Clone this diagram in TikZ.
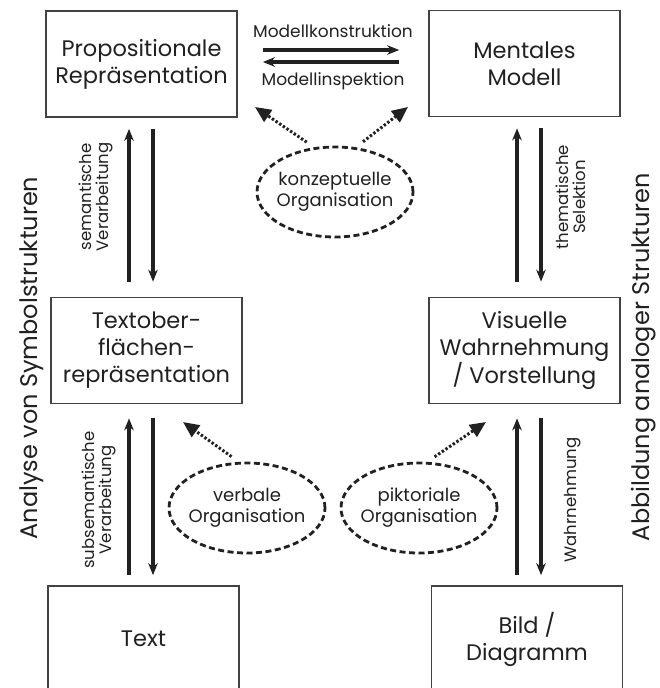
\documentclass[tikz,border=0pt]{standalone}
\usepackage{fontspec}
\setmainfont{Poppins}
\usetikzlibrary{arrows.meta,shapes.geometric,calc}
\definecolor{ink}{gray}{0.13}
\tikzset{
  box/.style={draw=ink!85, line width=1.7pt, minimum width=191pt, minimum height=106pt,
    align=center, inner sep=0pt, text=ink, font=\fontsize{22.5}{27}\selectfont},
  orgell/.style={ellipse, draw=ink, line width=2.8pt, dash pattern=on 6pt off 3.5pt,
    minimum width=156pt, minimum height=90pt, inner xsep=-8pt, inner ysep=0pt, align=center, text=ink,
    font=\fontsize{18}{21}\selectfont},
  arr/.style={draw=ink, line width=3.1pt, -{Stealth[length=12pt,width=9.5pt]}},
  dotarr/.style={draw=ink, line width=3pt, dash pattern=on 2.4pt off 2pt,
    -{Triangle[length=16pt,width=14pt]}},
  lbl/.style={text=ink, font=\fontsize{17}{19}\selectfont, inner sep=0pt},
  rlbl/.style={text=ink, font=\fontsize{16.5}{16.5}\selectfont, inner sep=0pt, rotate=90, align=center},
  side/.style={text=ink, font=\fontsize{24}{27}\selectfont, rotate=90, inner sep=0pt}
}
\begin{document}
\begin{tikzpicture}[x=1pt,y=-1pt]
\useasboundingbox (0,0) rectangle (659,688);
\clip (0,0) rectangle (659,688);
\fill[white] (0,0) rectangle (659,688);

% boxes
\node[box] (pr) at (141.5,64) {Propositionale\\Repräsentation};
\node[box] (mm) at (524.5,63.5) {Mentales\\Modell};
\node[box] (tf) at (146.5,350.5) {Textober-\\flächen-\\repräsentation};
\node[box] (vw) at (524.5,350.5) {Visuelle\\Wahrnehmung\\/ Vorstellung};
\node[box] (tx) at (143.5,639) {Text};
\node[box] (bd) at (527,639) {Bild /\\Diagramm};

% column coordinates
\coordinate (cl1) at (129,0);
\coordinate (cl2) at (153,0);
\coordinate (cr1) at (517,0);
\coordinate (cr2) at (541,0);
\coordinate (rw1) at (0,50);
\coordinate (rw2) at (0,62);

% horizontal arrows
\draw[arr, shorten <=25pt, shorten >=29pt] (pr.east |- rw1) -- (mm.west |- rw1);
\draw[arr, shorten <=29pt, shorten >=25pt] (mm.west |- rw2) -- (pr.east |- rw2);
\node[lbl] (mk) at (333,31) {Modellkonstruktion};
\node[lbl] (mi) at (333,81) {Modellinspektion};

% vertical arrows left
\draw[arr, shorten <=15pt, shorten >=11pt] (tf.north -| cl1) -- (pr.south -| cl1);
\draw[arr, shorten <=11pt, shorten >=15pt] (pr.south -| cl2) -- (tf.north -| cl2);
\draw[arr, shorten <=10pt, shorten >=14pt] (tx.north -| cl1) -- (tf.south -| cl1);
\draw[arr, shorten <=14pt, shorten >=10pt] (tf.south -| cl2) -- (tx.north -| cl2);
% vertical arrows right
\draw[arr, shorten <=15pt, shorten >=11pt] (vw.north -| cr1) -- (mm.south -| cr1);
\draw[arr, shorten <=11pt, shorten >=15pt] (mm.south -| cr2) -- (vw.north -| cr2);
\draw[arr, shorten <=10pt, shorten >=14pt] (bd.north -| cr1) -- (vw.south -| cr1);
\draw[arr, shorten <=14pt, shorten >=10pt] (vw.south -| cr2) -- (bd.north -| cr2);

% arrow labels
\node[rlbl] (sv) at (96,197) {semantische\\Verarbeitung};
\node[rlbl] (ssv) at (99,500) {subsemantische\\Verarbeitung};
\node[rlbl] (ts) at (571,197) {thematische\\Selektion};
\node[rlbl] (wn) at (573,500) {Wahrnehmung};

% side labels
\node[side] (al) at (32,358) {Analyse von Symbolstrukturen};
\node[side] (ar) at (644,357) {Abbildung analoger Strukturen};

% ellipses
\node[orgell] (ko) at (335,192) {konzeptuelle\\Organisation};
\node[orgell] (vo) at (247,508) {verbale\\Organisation};
\node[orgell] (po) at (419,508) {piktoriale\\Organisation};

% dotted arrows
\coordinate (kl) at (255,107);
\coordinate (kr) at (408,107);
\coordinate (vl) at (183,422);
\coordinate (pl) at (486,422);
\draw[dotarr, shorten <=9pt] (ko.115) -- (kl);
\draw[dotarr, shorten <=9pt] (ko.65) -- (kr);
\draw[dotarr, shorten <=9pt] (vo.100) -- (vl);
\draw[dotarr, shorten <=9pt] (po.80) -- (pl);
\end{tikzpicture}
\end{document}
